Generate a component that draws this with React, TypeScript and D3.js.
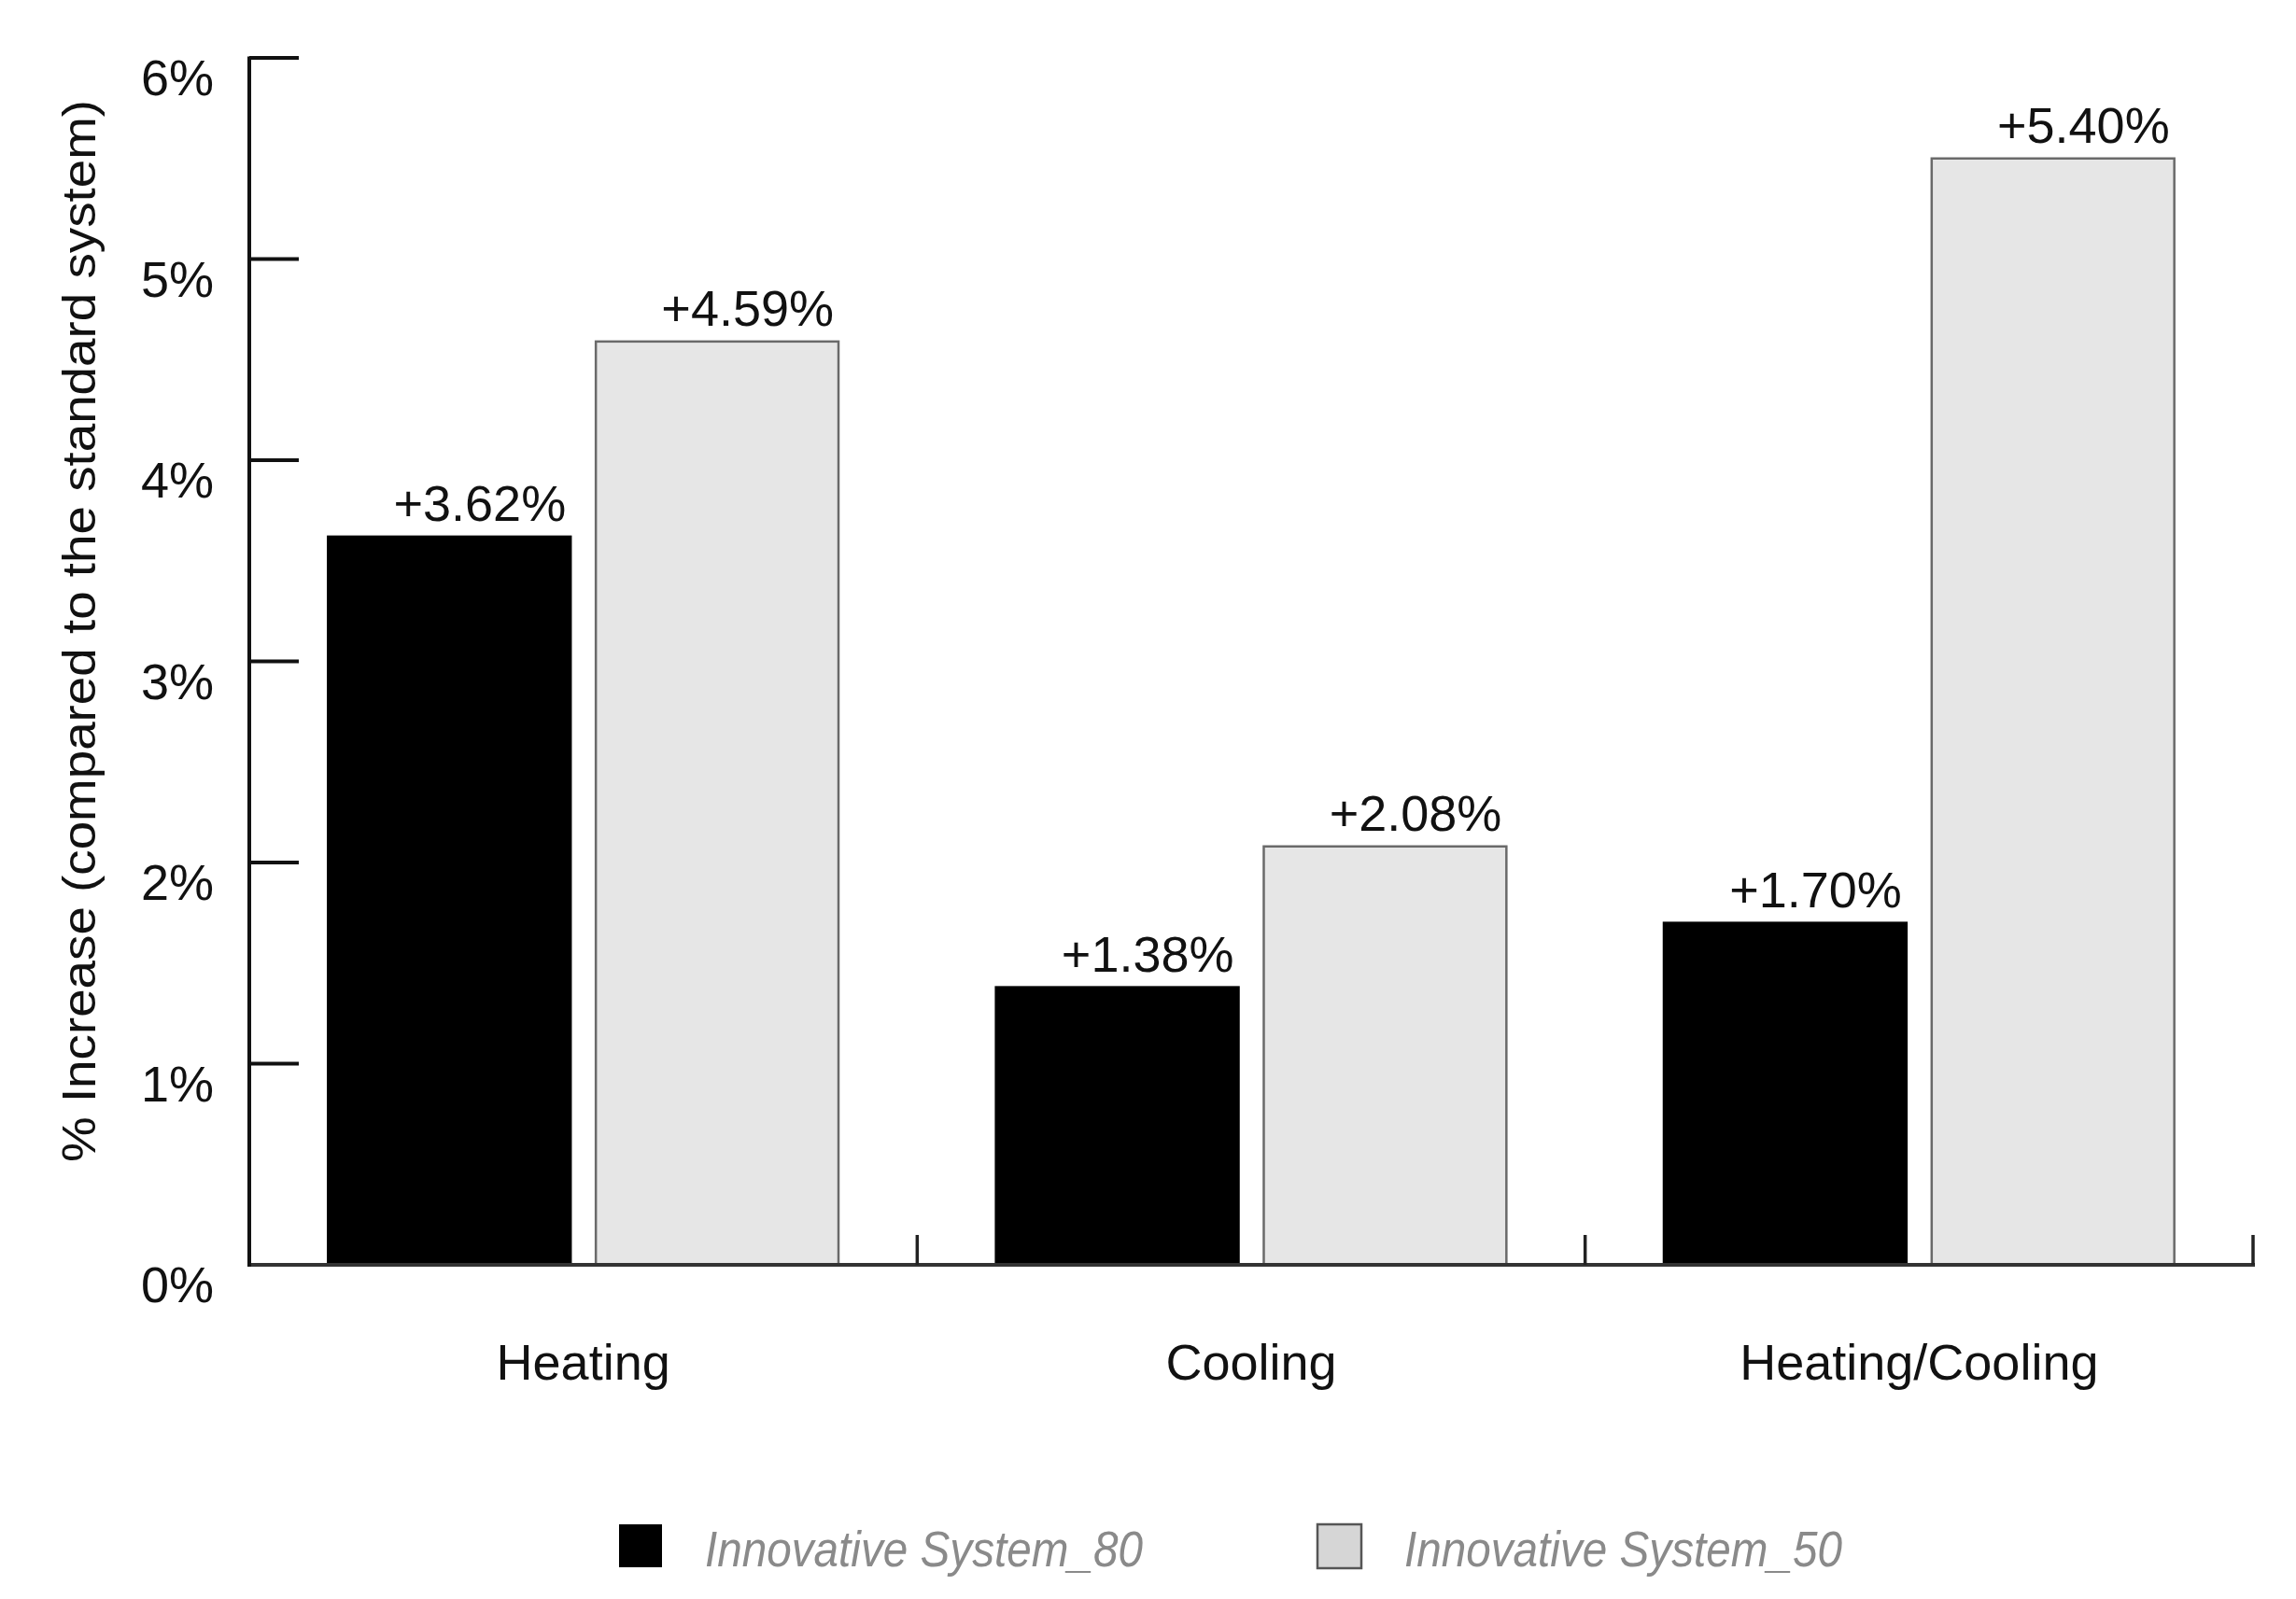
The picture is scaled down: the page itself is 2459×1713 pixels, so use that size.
import React from "react";
import * as d3 from "d3";

const categories = ["Heating", "Cooling", "Heating/Cooling"];
const seriesNames = ["Innovative System_80", "Innovative System_50"];
const system80 = [3.62, 1.38, 1.7];
const system50 = [4.59, 2.08, 5.5];
const labels80 = ["+3.62%", "+1.38%", "+1.70%"];
const labels50 = ["+4.59%", "+2.08%", "+5.40%"];
const yTickValues = [0, 1, 2, 3, 4, 5, 6];

const W = 2459;
const H = 1713;
const FONT = "'Liberation Sans', Arial, Helvetica, sans-serif";

export default function App() {
  const y = d3.scaleLinear().domain([0, 6]).range([1355, 62]);
  const x0 = d3.scaleBand<string>().domain(categories).range([267, 2413]).padding(0);
  const x1 = d3
    .scaleBand<string>()
    .domain(seriesNames)
    .range([0, x0.bandwidth()])
    .paddingInner(0.094)
    .paddingOuter(0.294);
  const bw = x1.bandwidth();

  const seriesData = [
    { name: seriesNames[0], values: system80, labels: labels80, fill: "#000000", stroke: "#000000" },
    { name: seriesNames[1], values: system50, labels: labels50, fill: "#e6e6e6", stroke: "#6a6a6a" },
  ];

  const boundaries = [...categories.map((c) => x0(c) as number), 2413];

  return (
    <div style={{ position: "absolute", left: 0, top: 0 }}>
      <svg width={W} height={H} viewBox={`0 0 ${W} ${H}`} style={{ display: "block", background: "#fff" }}>
        <rect x={0} y={0} width={W} height={H} fill="#fff" />
        {/* bars */}
        {seriesData.map((s) =>
          categories.map((c, i) => {
            const bx = (x0(c) as number) + (x1(s.name) as number);
            const by = y(s.values[i]);
            return (
              <g key={s.name + c}>
                <rect
                  x={bx}
                  y={by}
                  width={bw}
                  height={y(0) - by}
                  fill={s.fill}
                  stroke={s.stroke}
                  strokeWidth={2.5}
                />
                <text
                  x={bx + bw - 5}
                  y={by - 17}
                  textAnchor="end"
                  fontFamily={FONT}
                  fontSize={54}
                  fill="#111"
                >
                  {s.labels[i]}
                </text>
              </g>
            );
          })
        )}
        {/* x axis */}
        <line x1={265} x2={2415} y1={y(0)} y2={y(0)} stroke="#333" strokeWidth={4} />
        {boundaries.slice(1).map((bx, i) => (
          <line key={i} x1={bx} x2={bx} y1={y(0)} y2={y(0) - 32} stroke="#222" strokeWidth={3.5} />
        ))}
        {categories.map((c) => (
          <text
            key={c}
            x={(x0(c) as number) + x0.bandwidth() / 2}
            y={1478}
            textAnchor="middle"
            fontFamily={FONT}
            fontSize={54}
            fill="#111"
          >
            {c}
          </text>
        ))}
        {/* y axis */}
        <line x1={267} x2={267} y1={y(6) - 1.5} y2={y(0) + 2} stroke="#111" strokeWidth={4} />
        {yTickValues.map((t) => (
          <g key={t}>
            {t > 0 && <line x1={267} x2={320} y1={y(t)} y2={y(t)} stroke="#111" strokeWidth={4} />}
            <text
              x={229}
              y={y(t) + 40}
              textAnchor="end"
              fontFamily={FONT}
              fontSize={54}
              fill="#111"
            >
              {`${t}%`}
            </text>
          </g>
        ))}
        <text
          transform={`translate(102, 676) rotate(-90)`}
          textAnchor="middle"
          fontFamily={FONT}
          fontSize={50}
          fill="#111"
          textLength={1138}
          lengthAdjust="spacingAndGlyphs"
        >
          % Increase (compared to the standard system)
        </text>
        {/* legend */}
        <rect x={663} y={1633} width={46} height={46} fill="#000" />
        <text
          x={755}
          y={1678}
          fontFamily={FONT}
          fontSize={53}
          fontStyle="italic"
          fill="#8a8a8a"
          textLength={469}
          lengthAdjust="spacingAndGlyphs"
        >
          {seriesNames[0]}
        </text>
        <rect x={1411} y={1633} width={47} height={47} fill="#d6d6d6" stroke="#555" strokeWidth={2.5} />
        <text
          x={1504}
          y={1678}
          fontFamily={FONT}
          fontSize={53}
          fontStyle="italic"
          fill="#8a8a8a"
          textLength={469}
          lengthAdjust="spacingAndGlyphs"
        >
          {seriesNames[1]}
        </text>
      </svg>
    </div>
  );
}
